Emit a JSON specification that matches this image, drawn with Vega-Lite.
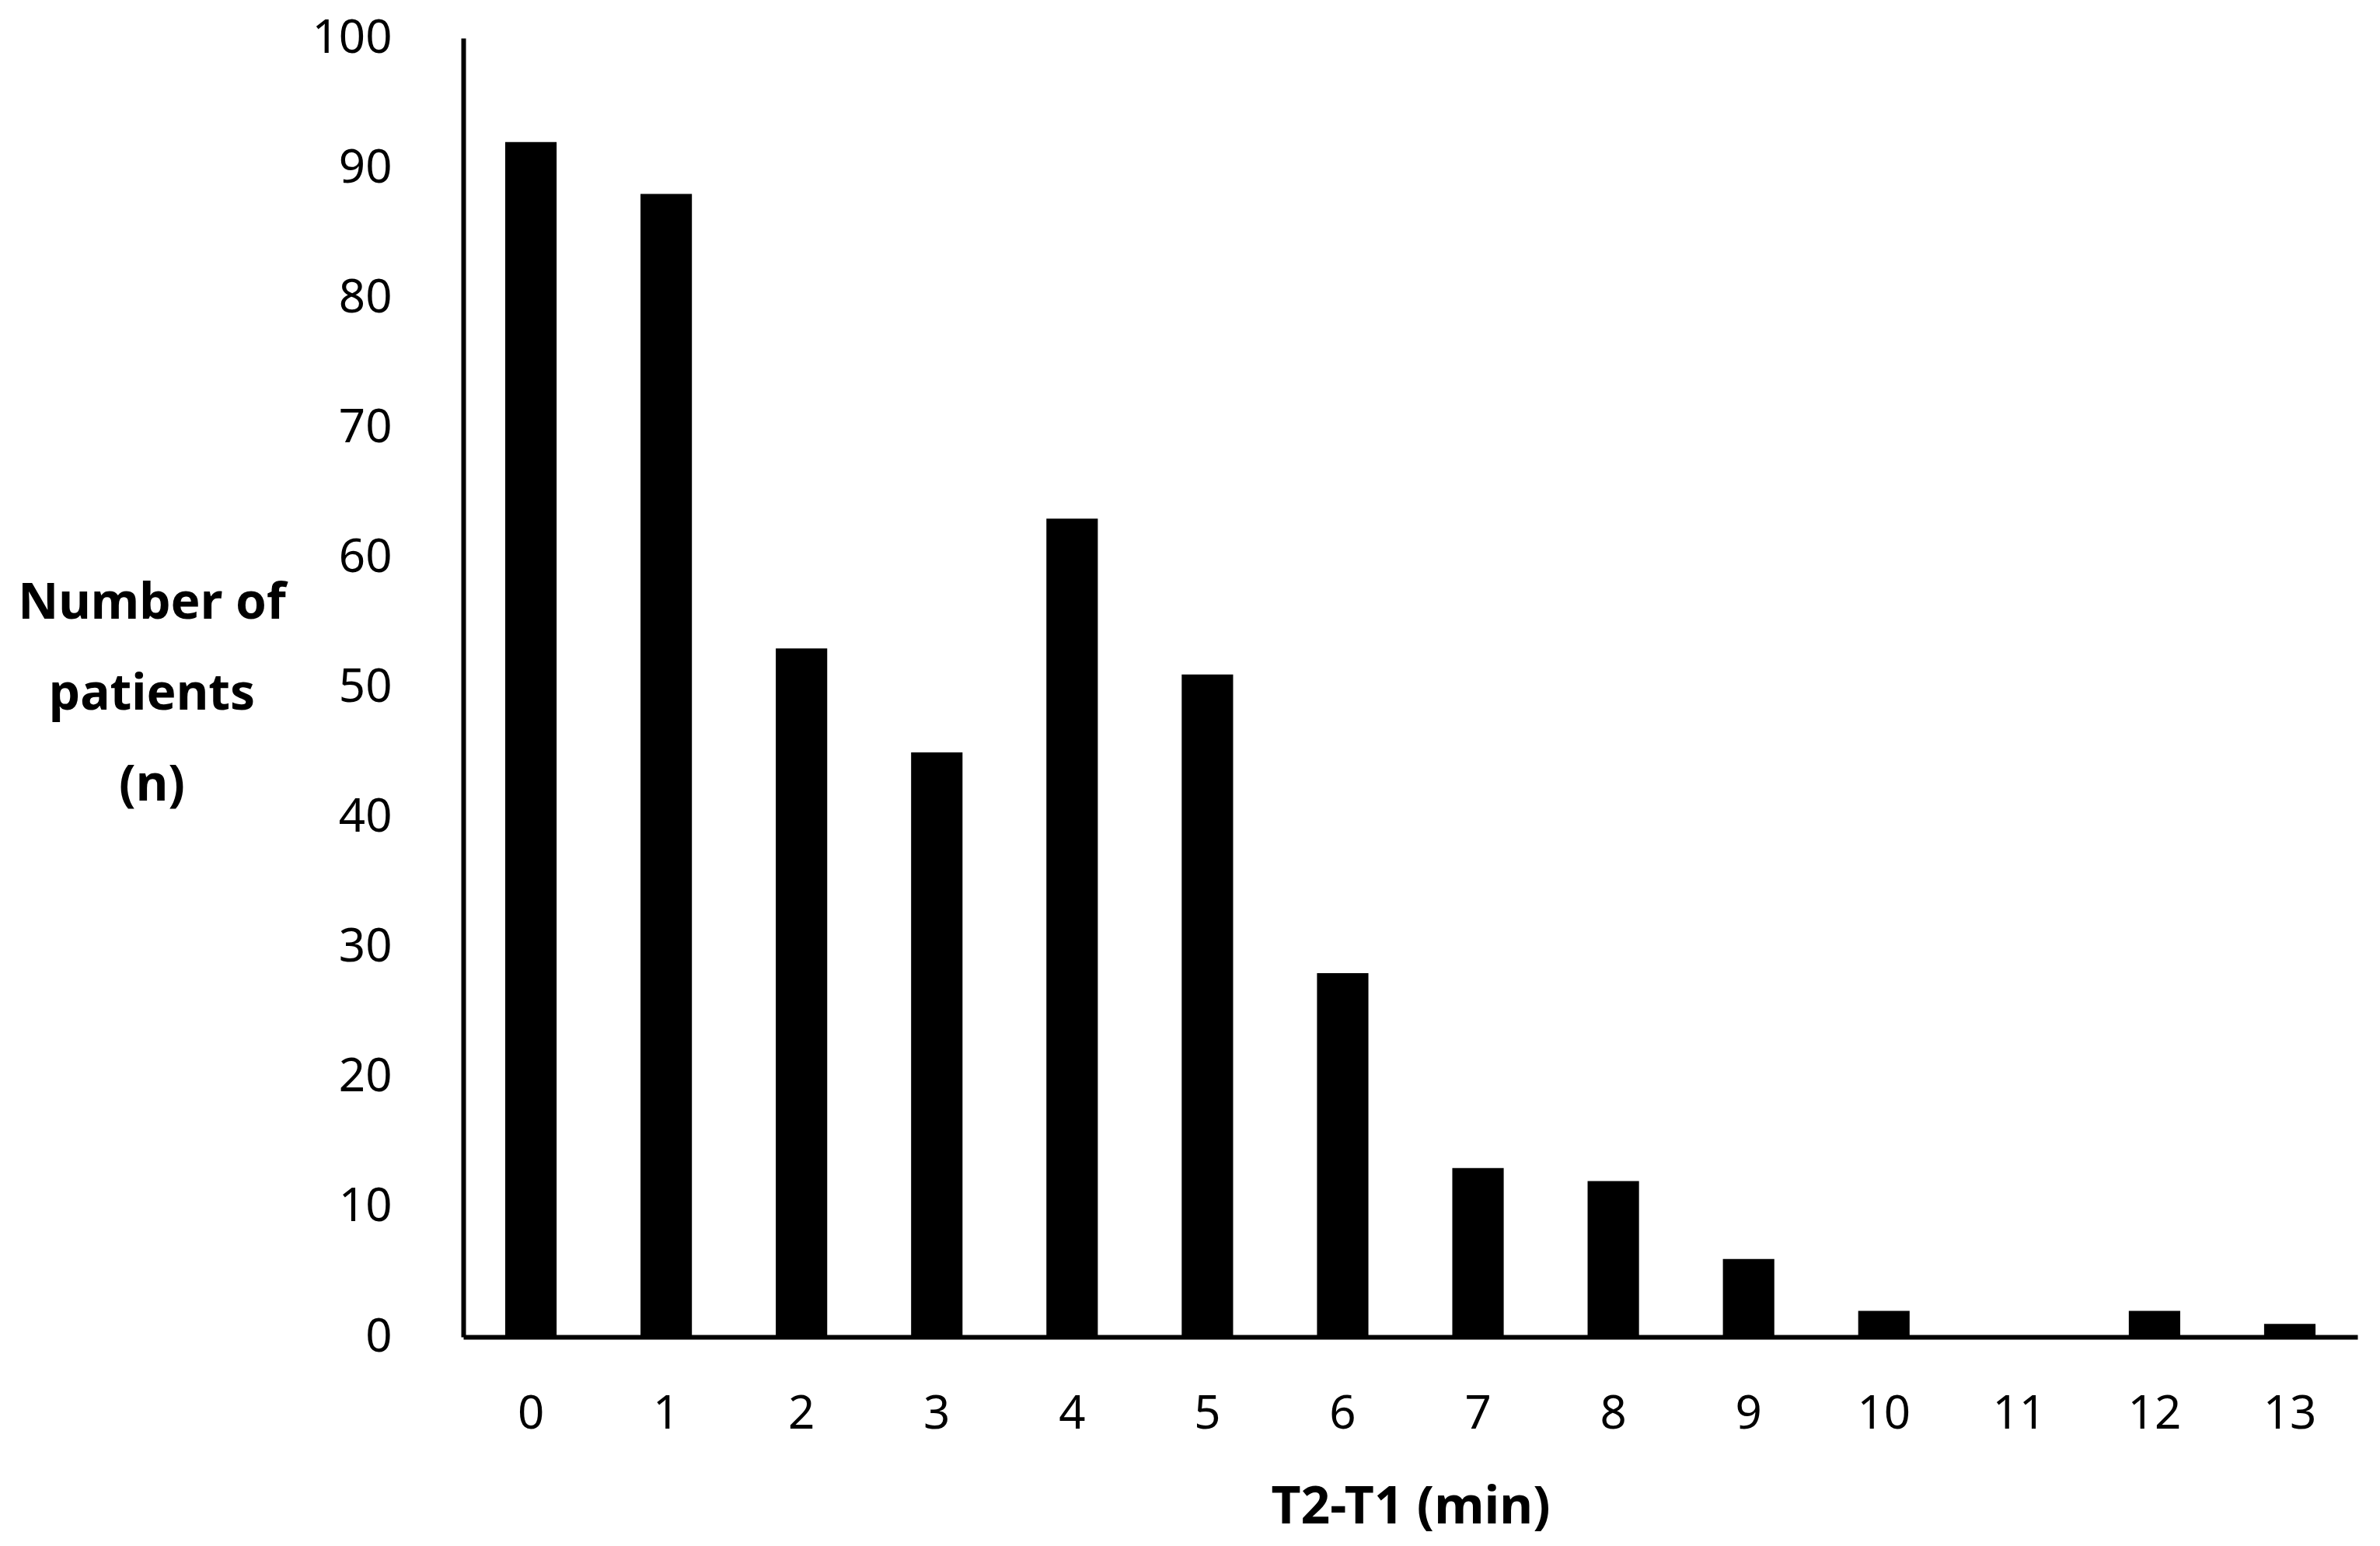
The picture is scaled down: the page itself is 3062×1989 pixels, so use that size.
{
  "$schema": "https://vega.github.io/schema/vega-lite/v6.json",
  "autosize": "none",
  "width": 2437,
  "height": 1671,
  "padding": {"left": 596, "top": 49, "right": 29, "bottom": 269},
  "background": "white",
  "config": {"view": {"stroke": null}, "font": "Noto Sans"},
  "data": {"values": [
    {"t": "0", "n": 92}, {"t": "1", "n": 88}, {"t": "2", "n": 53}, {"t": "3", "n": 45},
    {"t": "4", "n": 63}, {"t": "5", "n": 51}, {"t": "6", "n": 28}, {"t": "7", "n": 13},
    {"t": "8", "n": 12}, {"t": "9", "n": 6}, {"t": "10", "n": 2}, {"t": "11", "n": 0},
    {"t": "12", "n": 2}, {"t": "13", "n": 1}
  ]},
  "mark": {"type": "bar", "color": "black"},
  "encoding": {
    "x": {
      "field": "t", "type": "ordinal", "sort": null,
      "scale": {"paddingInner": 0.62, "paddingOuter": 0.31},
      "axis": {
        "title": "T2-T1 (min)", "labelAngle": 0, "ticks": false,
        "domainColor": "black", "domainWidth": 6,
        "labelFontSize": 60, "labelColor": "black", "labelPadding": 70,
        "titleFontSize": 66, "titleFontWeight": "bold", "titleColor": "black",
        "titleY": 219, "titleBaseline": "middle"
      }
    },
    "y": {
      "field": "n", "type": "quantitative",
      "scale": {"domain": [0, 100]},
      "axis": {
        "title": ["Number of", "patients", "(n)"],
        "values": [0, 10, 20, 30, 40, 50, 60, 70, 80, 90, 100],
        "grid": false, "ticks": false,
        "domainColor": "black", "domainWidth": 6,
        "labelFontSize": 60, "labelColor": "black", "labelPadding": 92,
        "titleFontSize": 64, "titleFontWeight": "bold", "titleColor": "black",
        "titleAngle": 0, "titleAlign": "center", "titleBaseline": "middle",
        "titleX": -401, "titleY": 727, "titleLineHeight": 117
      }
    }
  }
}
